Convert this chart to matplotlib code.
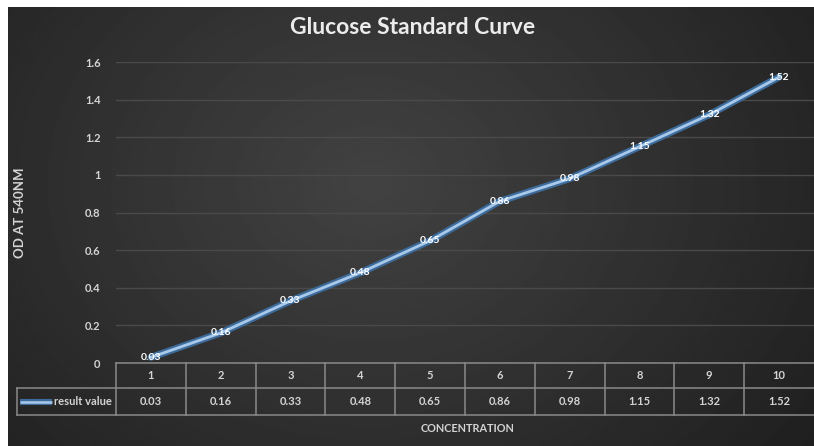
import numpy as np
import matplotlib.pyplot as plt

# glucose standard curve: optical density at 540 nm per concentration step
concentration = [1, 2, 3, 4, 5, 6, 7, 8, 9, 10]
od_540 = [0.03, 0.16, 0.33, 0.48, 0.65, 0.86, 0.98, 1.15, 1.32, 1.52]
y_ticks = [0, 0.2, 0.4, 0.6, 0.8, 1.0, 1.2, 1.4, 1.6]
y_tick_labels = ['0', '0.2', '0.4', '0.6', '0.8', '1', '1.2', '1.4', '1.6']
series_name = 'result value'

plt.rcParams['font.family'] = ['Lato', 'DejaVu Sans']

W, H = 814, 446
TXT = '#d4d4d4'
LINE_DARK = '#3d6c9c'
LINE_LIGHT = '#a9c9ea'
BORDER = '#8a8a8a'

fig = plt.figure(figsize=(W / 100, H / 100), dpi=100, facecolor='white')


def px_box(x0, y0, x1, y1):
    """Pixel rectangle (top-left origin) -> figure fraction box."""
    return [x0 / W, 1 - y1 / H, (x1 - x0) / W, (y1 - y0) / H]


# dark panel with a soft lighter centre
bg = fig.add_axes(px_box(8, 7, 814, 446))
yy, xx = np.mgrid[0:1:220j, 0:1:400j]
r = np.sqrt(((xx - 0.45) / 0.75) ** 2 + ((yy - 0.4) / 1.1) ** 2)
shade = 0.11 + 0.15 * np.clip(1 - r, 0, 1)
bg.imshow(shade, cmap='gray', vmin=0, vmax=1, aspect='auto', interpolation='bilinear')
bg.set_axis_off()

# plot area
ax = fig.add_axes(px_box(116, 62, 814, 363))
ax.set_facecolor('none')
ax.set_xlim(0.5, 10.5)
ax.set_ylim(0, 1.6)
ax.set_yticks(y_ticks)
ax.set_yticklabels(y_tick_labels)
ax.set_xticks([])
ax.tick_params(axis='y', length=0, pad=11, labelsize=8, labelcolor=TXT)
for lbl in ax.get_yticklabels():
    lbl.set_fontweight('bold')
for s in ax.spines.values():
    s.set_visible(False)
ax.yaxis.grid(True, color='#4a4a4a', lw=1.0)
ax.set_axisbelow(True)

ax.plot(concentration, od_540, color=LINE_DARK, lw=5.0, solid_capstyle='round', zorder=3)
ax.plot(concentration, od_540, color=LINE_LIGHT, lw=2.0, solid_capstyle='round', zorder=4)
for x, v in zip(concentration, od_540):
    ax.text(x, v, f'{v:.2f}', ha='center', va='center', color='white',
            fontsize=7.5, fontweight='bold', zorder=5, clip_on=False)

# data table under the plot
tab = fig.add_axes(px_box(17, 363, 814, 415))
tab.set_facecolor('none')
unit_px = (814 - 116) / 10
x_left = 0.5 - (116 - 17) / unit_px
tab.set_xlim(x_left, 10.5)
tab.set_ylim(0, 1)
tab.set_axis_off()
split = (415 - 388) / (415 - 363)

lw = 1.1
tab.plot([0.5, 10.5], [1, 1], color=BORDER, lw=lw, clip_on=False)
tab.plot([x_left, 10.5], [split, split], color=BORDER, lw=lw, clip_on=False)
tab.plot([x_left, 10.5], [0, 0], color=BORDER, lw=lw, clip_on=False)
tab.plot([x_left, x_left], [0, split], color=BORDER, lw=lw, clip_on=False)
for xb in np.arange(0.5, 10.5, 1.0):
    tab.plot([xb, xb], [0, 1], color=BORDER, lw=lw, clip_on=False)

for x, v in zip(concentration, od_540):
    tab.text(x, (1 + split) / 2, str(x), ha='center', va='center',
             color=TXT, fontsize=8, fontweight='bold')
    tab.text(x, split / 2, f'{v:.2f}', ha='center', va='center',
             color=TXT, fontsize=8, fontweight='bold')

# legend key inside the first column
key_x = [x_left + 3 / unit_px, x_left + 35 / unit_px]
tab.plot(key_x, [split / 2] * 2, color=LINE_DARK, lw=4.4, solid_capstyle='butt')
tab.plot(key_x, [split / 2] * 2, color=LINE_LIGHT, lw=1.8, solid_capstyle='butt')
tab.text(0.5 - 4 / unit_px, split / 2, series_name, ha='right', va='center',
         color=TXT, fontsize=8, fontweight='bold')

# titles
fig.text(413 / W, 1 - 27 / H, 'Glucose Standard Curve', ha='center', va='center',
         color='#ececec', fontsize=16.5, fontweight='bold')
fig.text(20 / W, 1 - 213 / H, 'OD AT 540NM', rotation=90, ha='center', va='center',
         color=TXT, fontsize=9.5, fontweight='bold')
fig.text(468 / W, 1 - 429 / H, 'CONCENTRATION', ha='center', va='center',
         color=TXT, fontsize=7.8, fontweight='bold')

fig.savefig('out.png', dpi=100, facecolor='white')
